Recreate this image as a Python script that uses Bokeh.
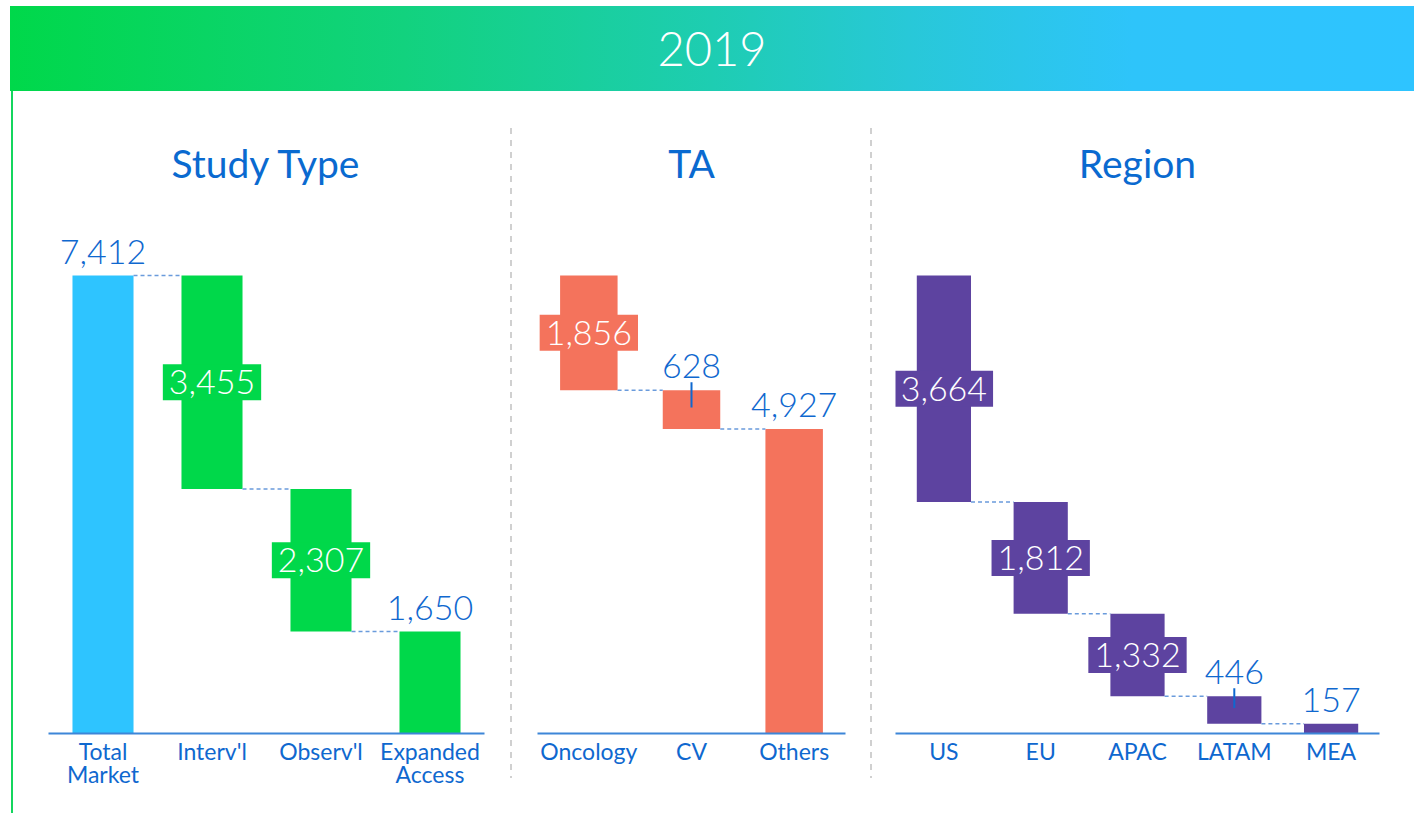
from bokeh.plotting import figure
from bokeh.models import ColumnDataSource, Div, FactorRange, Range1d
from bokeh.transform import dodge
from bokeh.layouts import row, column
from bokeh.core.properties import value
from bokeh.embed import file_html
from bokeh.resources import INLINE

# ---------------- data ----------------
year_label = "2019"
total_market = 7412

study_title = "Study Type"
study_categories = ["Total\nMarket", "Interv'l", "Observ'l", "Expanded\nAccess"]
study_values = [7412, 3455, 2307, 1650]

ta_title = "TA"
ta_categories = ["Oncology", "CV", "Others"]
ta_values = [1856, 628, 4927]

region_title = "Region"
region_categories = ["US", "EU", "APAC", "LATAM", "MEA"]
region_values = [3664, 1812, 1332, 446, 157]

# ---------------- styles ----------------
TOTAL_COLOR = "#2EC4FF"
STUDY_COLOR = "#00D84A"
TA_COLOR = "#F4735C"
REGION_COLOR = "#5D43A0"
LABEL_BLUE = "#0F68CF"
TITLE_BLUE = "#0A6AD0"
AXIS_BLUE = "#3D86D8"
CONN_BLUE = "#6A9BDC"
NUM_FONT = "Lato Light"
TXT_FONT = "Lato"

HEADER_H = 91
FIG_H = 813 - HEADER_H
BORDER_TOP = 99
BORDER_BOTTOM = 80
FRAME_H = FIG_H - BORDER_TOP - BORDER_BOTTOM
TOTAL_PX = 458                       # pixel height of the total bar
Y_END = total_market * FRAME_H / TOTAL_PX
PX = Y_END / FRAME_H                 # data units per screen pixel
BAR_W = 0.56


def waterfall(title, cats, vals, color, first_is_total, width, border_left, border_right):
    tops, bottoms, colors = [], [], []
    level = total_market
    for i, v in enumerate(vals):
        if first_is_total and i == 0:
            tops.append(v)
            bottoms.append(0)
            colors.append(TOTAL_COLOR)
            level = v
        else:
            tops.append(level)
            bottoms.append(max(level - v, 0))
            colors.append(color)
            level -= v
    mids = [(t + b) / 2 for t, b in zip(tops, bottoms)]
    labels = [f"{v:,}" for v in vals]

    p = figure(x_range=FactorRange(*cats, range_padding=0), y_range=Range1d(0, Y_END),
               width=width, height=FIG_H, output_backend="svg", toolbar_location=None,
               min_border_left=border_left, min_border_right=border_right,
               min_border_top=BORDER_TOP, min_border_bottom=BORDER_BOTTOM,
               y_axis_location=None, title=title)
    p.title.align = "center"
    p.title.text_font = TXT_FONT
    p.title.text_font_size = "39px"
    p.title.text_font_style = "normal"
    p.title.text_color = TITLE_BLUE
    p.xgrid.visible = False
    p.ygrid.visible = False
    p.outline_line_color = None
    p.background_fill_color = "white"
    p.border_fill_color = "white"

    ax = p.xaxis[0]
    ax.axis_line_color = AXIS_BLUE
    ax.axis_line_width = 2
    ax.major_tick_line_color = None
    ax.minor_tick_line_color = None
    ax.major_label_text_font = TXT_FONT
    ax.major_label_text_font_size = "23px"
    ax.major_label_text_color = LABEL_BLUE
    ax.major_label_text_line_height = 0.84
    ax.major_label_standoff = -3

    src = ColumnDataSource(dict(cat=cats, top=tops, bottom=bottoms, color=colors, mid=mids, label=labels))
    p.vbar(x="cat", top="top", bottom="bottom", width=BAR_W, fill_color="color",
           line_color=None, source=src)

    # connectors
    conn = ColumnDataSource(dict(frm=cats[:-1], to=cats[1:], level=tops[1:]))
    p.segment(x0=dodge("frm", BAR_W / 2, range=p.x_range), y0="level",
              x1=dodge("to", -BAR_W / 2, range=p.x_range), y1="level",
              line_color=CONN_BLUE, line_width=1.5, line_dash="4 3", source=conn)

    inside = dict(cat=[], mid=[], label=[], color=[])
    above = dict(cat=[], top=[], label=[])
    leader = dict(cat=[], y0=[], y1=[])
    last = len(vals) - 1
    for i in range(len(vals)):
        h_px = (tops[i] - bottoms[i]) / PX
        if (first_is_total and i == 0) or i == last:
            above["cat"].append(cats[i]); above["top"].append(tops[i]); above["label"].append(labels[i])
        elif h_px >= 60:
            inside["cat"].append(cats[i]); inside["mid"].append(mids[i])
            inside["label"].append(labels[i]); inside["color"].append(colors[i])
        else:
            above["cat"].append(cats[i]); above["top"].append(tops[i]); above["label"].append(labels[i])
            leader["cat"].append(cats[i]); leader["y0"].append(mids[i] + 2 * PX)
            leader["y1"].append(tops[i] + 8 * PX)

    p.segment(x0="cat", x1="cat", y0="y0", y1="y1", line_color=LABEL_BLUE, line_width=2,
              source=ColumnDataSource(leader))
    p.text(x="cat", y="top", text="label", text_color=LABEL_BLUE, text_font=value(NUM_FONT),
           text_font_size="34px", text_align="center", text_baseline="alphabetic",
           y_offset=-24, source=ColumnDataSource(above))
    p.text(x="cat", y="mid", text="label", text_color="white", text_font=value(NUM_FONT),
           text_font_size="34px", text_align="center", text_baseline="middle",
           background_fill_color="color", padding=6, source=ColumnDataSource(inside))
    return p


p1 = waterfall(study_title, study_categories, study_values, STUDY_COLOR, True, 496, 34, 26)
p2 = waterfall(ta_title, ta_categories, ta_values, TA_COLOR, False, 358, 25, 25)
p3 = waterfall(region_title, region_categories, region_values, REGION_COLOR, False, 542, 23, 35)

header = Div(text=(
    '<div style="width:1404px;height:85px;margin-left:10px;margin-top:6px;'
    'background:linear-gradient(90deg,#00D84A 0%,#12D27E 28%,#1ECDB2 50%,#28C8D8 64%,#2EC4FA 80%,#2EC4FF 100%);'
    'color:#fff;font-family:Lato;font-weight:300;font-size:47px;display:flex;align-items:center;'
    f'justify-content:center;">{year_label}</div>'), width=1414, height=HEADER_H, margin=0)

left_line = Div(text=f'<div style="margin-left:11px;width:2px;height:{FIG_H}px;background:#14D65E"></div>',
                width=14, height=FIG_H, margin=0)


def separator():
    return Div(text=('<div style="margin-top:37px;width:2px;height:650px;'
                     'background:repeating-linear-gradient(to bottom,#d0d0d0 0px,#d0d0d0 6px,'
                     'transparent 6px,transparent 12px)"></div>'),
               width=2, height=FIG_H, margin=0)


layout = column(header, row(left_line, p1, separator(), p2, separator(), p3, spacing=0), spacing=0)

open("out.html", "w").write(file_html(layout, INLINE))
